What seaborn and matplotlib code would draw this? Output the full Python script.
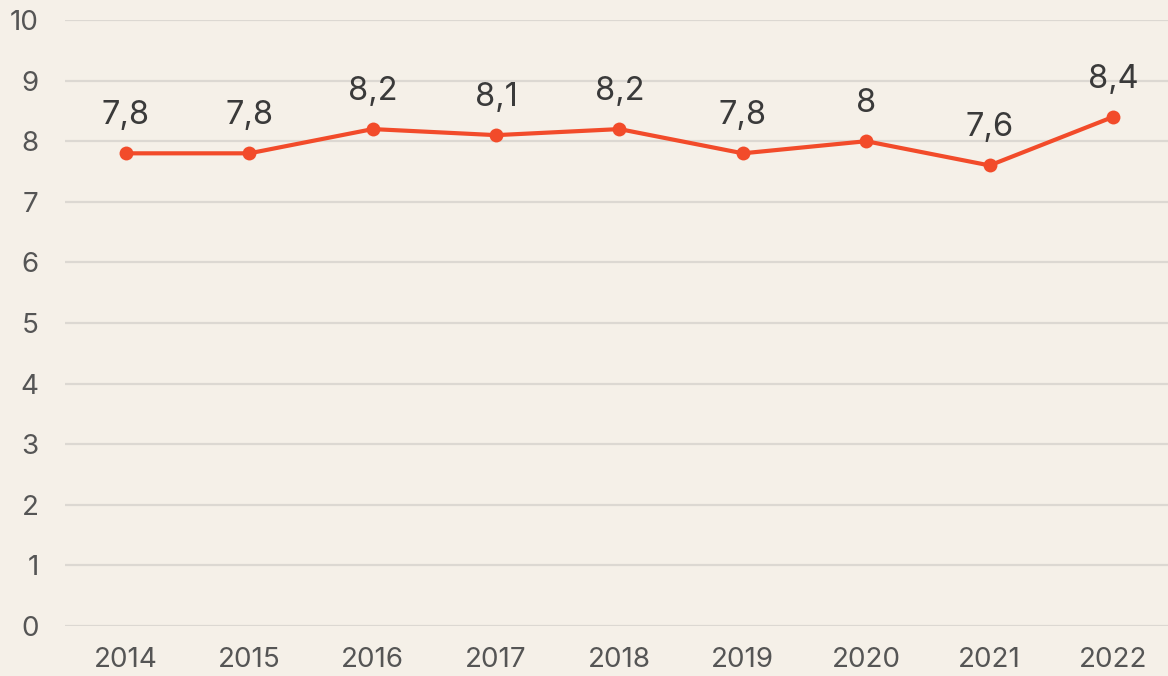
import matplotlib
matplotlib.use('Agg')
import matplotlib.pyplot as plt
import seaborn as sns
import pandas as pd

years = ['2014', '2015', '2016', '2017', '2018', '2019', '2020', '2021', '2022']
values = [7.8, 7.8, 8.2, 8.1, 8.2, 7.8, 8.0, 7.6, 8.4]
labels = ['7,8', '7,8', '8,2', '8,1', '8,2', '7,8', '8', '7,6', '8,4']
yticks = list(range(0, 11))

bg = '#F5F0E8'
line_color = '#F24B2A'

sns.set_theme(style='white')
plt.rcParams['font.family'] = ['Inter', 'DejaVu Sans']

df = pd.DataFrame({'year': years, 'value': values})

fig = plt.figure(figsize=(11.68, 6.76), dpi=100, facecolor=bg)
ax = fig.add_axes([0.0557, 0.074, 0.9443, 0.8964])
ax.set_facecolor(bg)

sns.lineplot(data=df, x='year', y='value', ax=ax, color=line_color,
             linewidth=3, marker='o', markersize=10, markeredgewidth=0, zorder=3)

for i, (v, t) in enumerate(zip(values, labels)):
    ax.annotate(t, (i, v), xytext=(0, 27), textcoords='offset points',
                ha='center', va='center', fontsize=23.5, color='#3a3a3a')

ax.set_ylim(0, 10)
ax.set_xlim(-0.494, 8.446)
ax.set_yticks(yticks)
ax.yaxis.grid(True, color='#DCD8D2', linewidth=1.6)
ax.xaxis.grid(False)
for s in ax.spines.values():
    s.set_visible(False)
ax.tick_params(axis='y', length=0, pad=19, labelsize=20, labelcolor='#555555')
ax.tick_params(axis='x', length=0, pad=15, labelsize=20, labelcolor='#555555')
ax.set_xlabel('')
ax.set_ylabel('')

fig.savefig('out.png', dpi=100, facecolor=bg)
